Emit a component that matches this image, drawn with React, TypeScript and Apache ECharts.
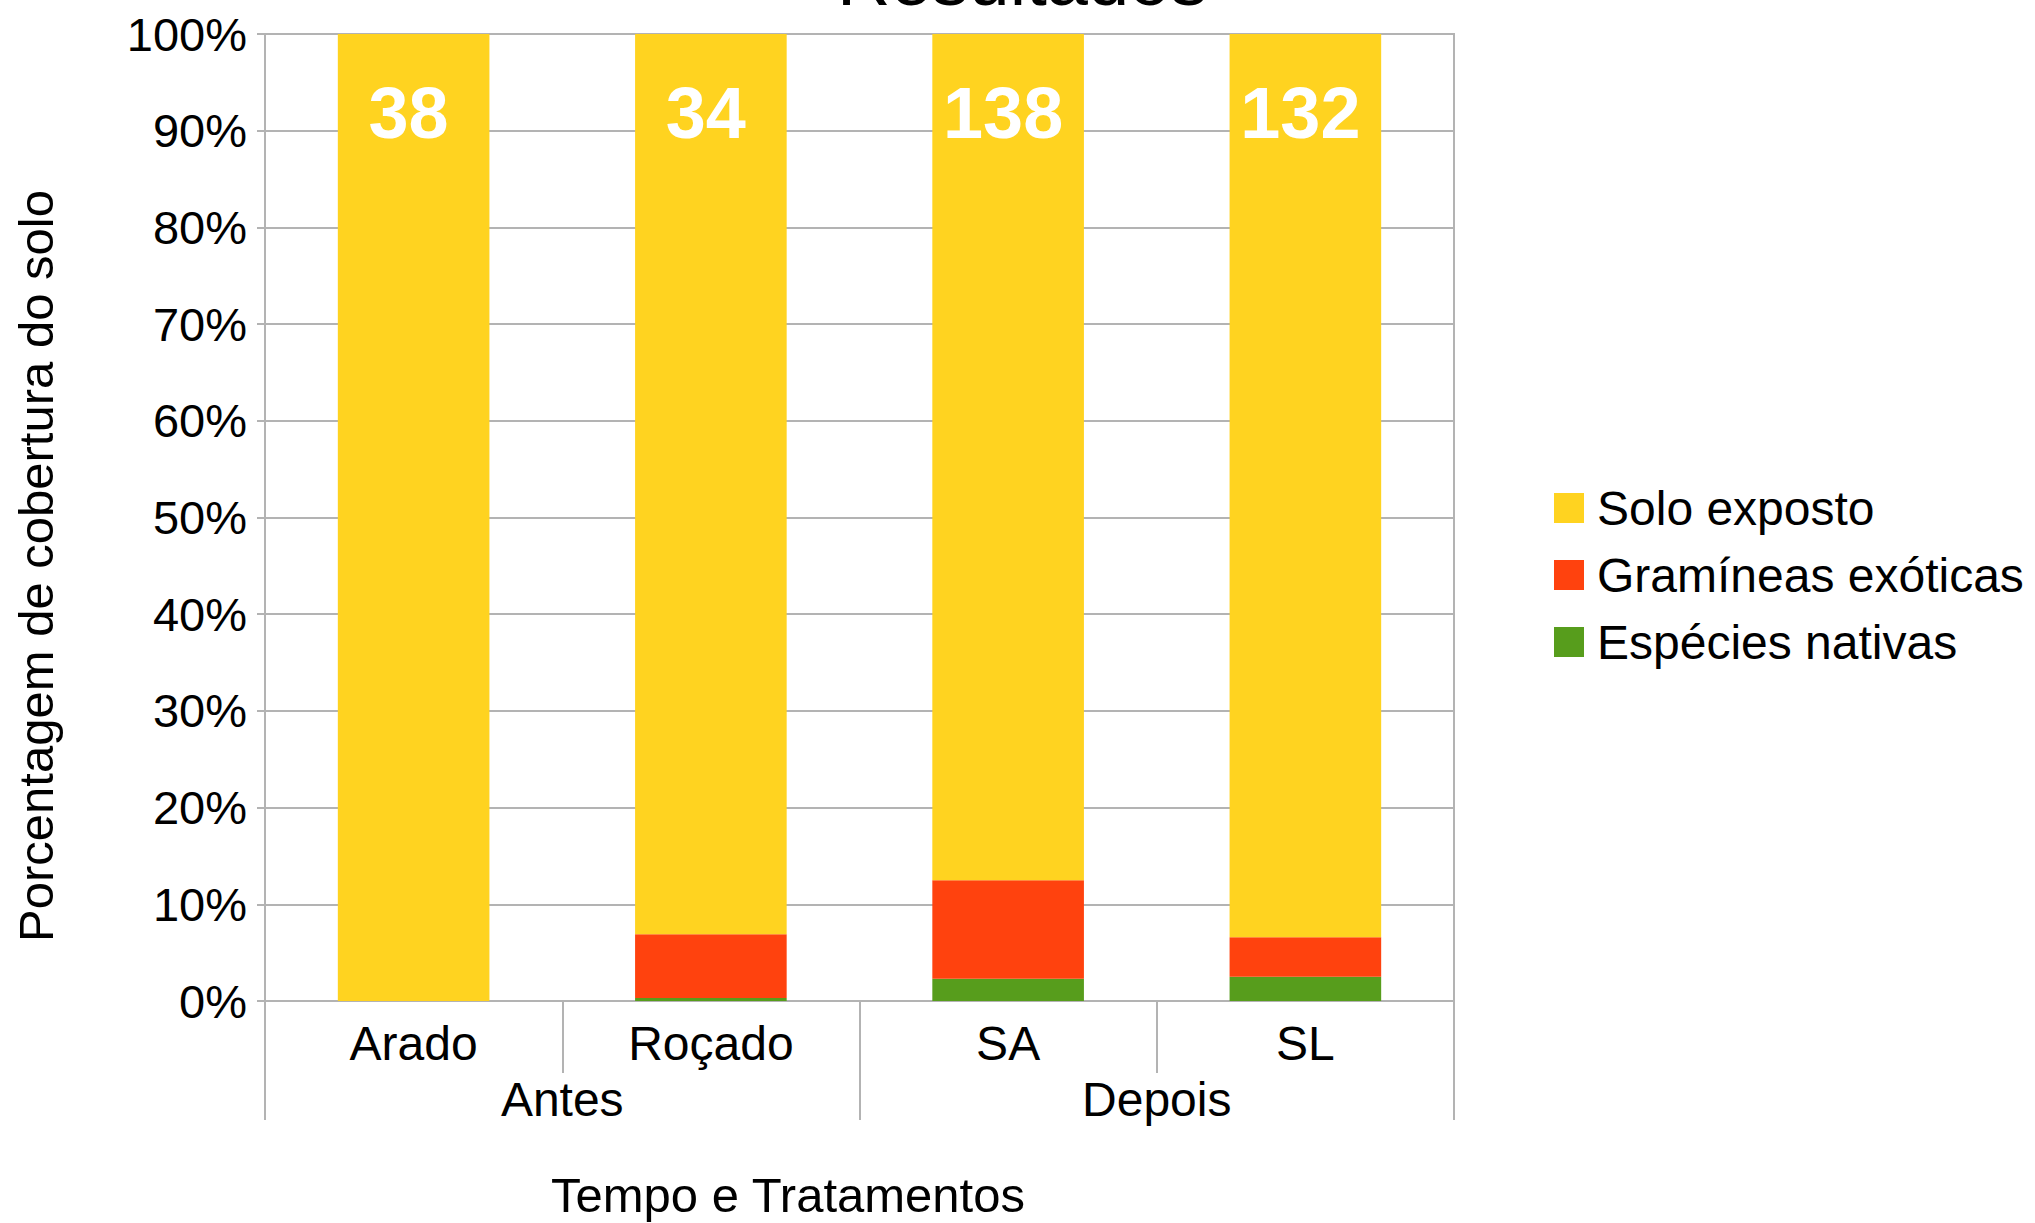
import React, { useEffect, useRef } from "react";
import * as echarts from "echarts";

const categories = ["Arado", "Roçado", "SA", "SL"];
const groups = ["Antes", "Depois"];
const seriesNames = ["Solo exposto", "Gramíneas exóticas", "Espécies nativas"];
const soloExposto = [100, 93.1, 87.5, 93.4];
const gramineasExoticas = [0, 6.6, 10.2, 4.1];
const especiesNativas = [0, 0.3, 2.3, 2.5];
const sampleCounts = [38, 34, 138, 132];

const FONT = "Liberation Sans";
const GRAY = "#b3b3b3";

export default function App() {
  const ref = useRef<HTMLDivElement>(null);
  useEffect(() => {
    document.body.style.margin = "0";
    const chart = echarts.init(ref.current!, null, { renderer: "svg" });
    chart.setOption({
      animation: false,
      backgroundColor: "#ffffff",
      textStyle: { fontFamily: FONT },
      title: {
        text: "Resultados",
        left: 837,
        top: -58,
        padding: 0,
        textStyle: { fontFamily: FONT, fontSize: 74, fontWeight: "normal", color: "#000" },
      },
      legend: {
        orient: "vertical",
        left: 1549,
        top: 479,
        itemWidth: 30,
        itemHeight: 30,
        itemGap: 19,
        icon: "rect",
        data: seriesNames,
        textStyle: { fontFamily: FONT, fontSize: 48, color: "#000", padding: [0, 0, 0, 8] },
      },
      grid: {
        left: 265,
        right: 581,
        top: 34,
        bottom: 222,
        show: true,
        borderColor: GRAY,
        borderWidth: 2,
      },
      xAxis: [
        {
          type: "category",
          data: categories,
          position: "bottom",
          axisLine: { show: true, lineStyle: { color: GRAY, width: 2 } },
          axisTick: { show: true, length: 72, lineStyle: { color: GRAY, width: 2 } },
          axisLabel: { margin: 18, fontFamily: FONT, fontSize: 48, color: "#000" },
        },
        {
          type: "category",
          data: groups,
          position: "bottom",
          offset: 0,
          axisLine: { show: false },
          axisTick: { show: true, length: 119, lineStyle: { color: GRAY, width: 2 } },
          axisLabel: { margin: 74, fontFamily: FONT, fontSize: 48, color: "#000" },
        },
      ],
      yAxis: {
        type: "value",
        min: 0,
        max: 100,
        interval: 10,
        axisLine: { show: true, lineStyle: { color: GRAY, width: 2 } },
        axisTick: { show: true, length: 8, lineStyle: { color: GRAY, width: 2 } },
        splitLine: { show: true, lineStyle: { color: GRAY, width: 2 } },
        axisLabel: { formatter: "{value}%", margin: 18, fontFamily: FONT, fontSize: 47, color: "#000" },
      },
      graphic: [
        {
          type: "text",
          x: 788,
          y: 1195,
          style: {
            text: "Tempo e Tratamentos",
            fontFamily: FONT,
            fontSize: 49,
            fill: "#000",
            textAlign: "center",
            textVerticalAlign: "middle",
          },
        },
        {
          type: "text",
          x: 36,
          y: 566,
          rotation: Math.PI / 2,
          style: {
            text: "Porcentagem de cobertura do solo",
            fontFamily: FONT,
            fontSize: 49,
            fill: "#000",
            textAlign: "center",
            textVerticalAlign: "middle",
          },
        },
      ],
      series: [
        {
          name: seriesNames[2],
          type: "bar",
          stack: "total",
          barWidth: "51%",
          data: especiesNativas,
          itemStyle: { color: "#579d1c" },
        },
        {
          name: seriesNames[1],
          type: "bar",
          stack: "total",
          data: gramineasExoticas,
          itemStyle: { color: "#ff420e" },
        },
        {
          name: seriesNames[0],
          type: "bar",
          stack: "total",
          data: soloExposto,
          itemStyle: { color: "#ffd320" },
          label: {
            show: true,
            position: ["50%", 79],
            align: "center",
            verticalAlign: "middle",
            offset: [-5, 0],
            formatter: (p: any) => String(sampleCounts[p.dataIndex]),
            fontFamily: FONT,
            fontSize: 72,
            fontWeight: "bold",
            color: "#ffffff",
          },
        },
      ],
    });
    return () => chart.dispose();
  }, []);
  return (
    <div
      ref={ref}
      style={{ position: "absolute", left: 0, top: 0, width: 2035, height: 1223 }}
    />
  );
}
